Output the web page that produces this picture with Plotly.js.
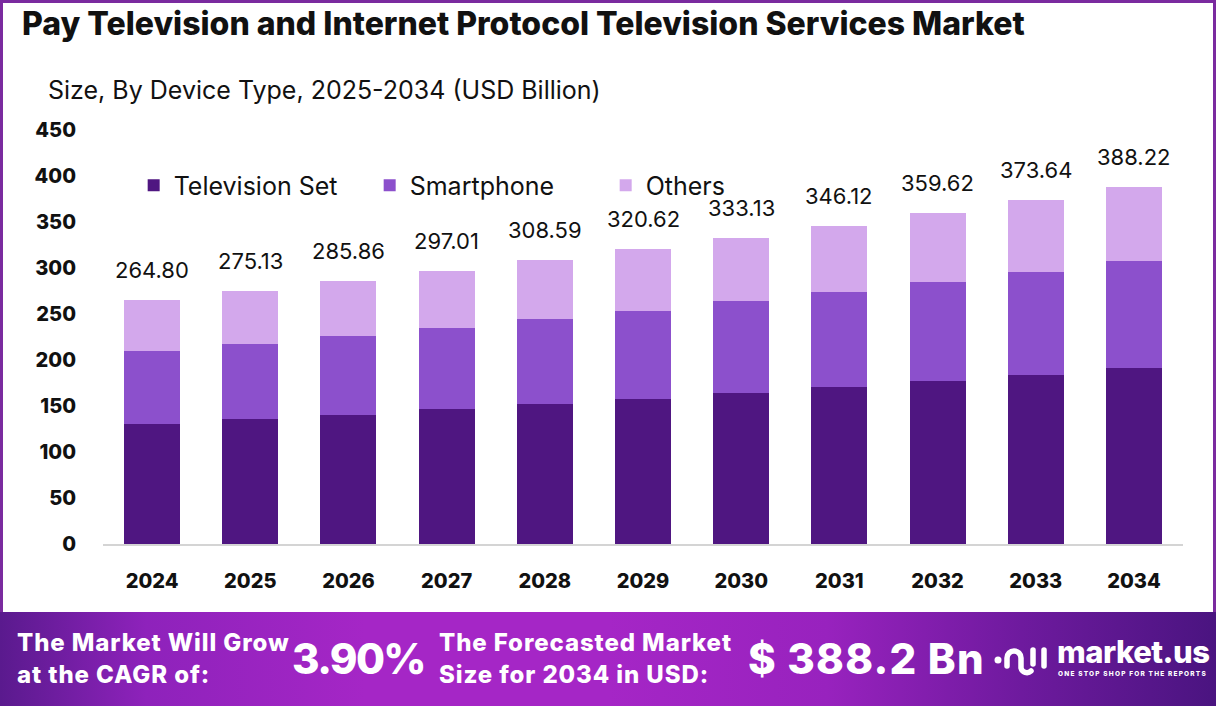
<!DOCTYPE html>
<html>
<head>
<meta charset="utf-8">
<script src="https://cdn.plot.ly/plotly-3.0.1.min.js"></script>
<style>
  html, body { margin:0; padding:0; width:1216px; height:706px; overflow:hidden; background:#fff; font-family: Inter, "Open Sans", sans-serif; }
  #frame { position:absolute; left:0; top:0; width:1216px; height:612px; box-sizing:border-box; border:3px solid #7a2a9f; border-bottom:none; pointer-events:none; }
  #chart { position:absolute; left:0; top:0; width:1216px; height:612px; }
  #banner { position:absolute; left:0; top:612px; width:1216px; height:94px;
    background: linear-gradient(90deg, #5a1a8e 0%, #8e22bb 12%, #a526c6 30%, #a526c6 50%, #9822be 68%, #6e1a9e 84%, #4a1480 100%); color:#fff; }
  .b { position:absolute; font-weight:800; color:#fff; white-space:nowrap; }
  .two { font-size:24px; line-height:32px; letter-spacing:0.9px; }
  .big { font-size:42px; line-height:41px; letter-spacing:0.5px; }
</style>
</head>
<body>
<div id="chart"></div>
<div id="frame"></div>
<div id="banner">
  <div class="b two" style="left:17px; top:15px;">The Market Will Grow<br>at the CAGR of:</div>
  <div class="b big" style="left:292px; top:26px; letter-spacing:-1.6px;">3.90%</div>
  <div class="b two" style="left:439px; top:15px;">The Forecasted Market<br>Size for 2034 in USD:</div>
  <div class="b big" style="left:748px; top:26px; letter-spacing:1.2px;">$ 388.2 Bn</div>
  <svg style="position:absolute; left:993px; top:30px;" width="58" height="40" viewBox="0 0 58 40">
    <circle cx="5" cy="18" r="3.5" fill="#fff"/>
    <path d="M14 24 V16 a7 7 0 0 1 14 0 V26 a6 6 0 0 0 10 3" stroke="#fff" stroke-width="5.5" fill="none" stroke-linecap="round"/>
    <line x1="40" y1="8" x2="40" y2="22" stroke="#fff" stroke-width="5.5" stroke-linecap="round"/>
    <line x1="51" y1="8" x2="51" y2="24" stroke="#fff" stroke-width="5.5" stroke-linecap="round"/>
  </svg>
  <div class="b" style="left:1057px; top:24px; font-size:31px; line-height:32px; letter-spacing:-0.5px;">market.us</div>
  <div class="b" style="left:1058px; top:58px; font-size:6.5px; letter-spacing:1.2px;">ONE STOP SHOP FOR THE REPORTS</div>
</div>
<script>
const years = ['2024','2025','2026','2027','2028','2029','2030','2031','2032','2033','2034'];
const televisionSet = [130.4, 135.9, 140.2, 146.7, 152.2, 157.6, 164.1, 170.7, 177.2, 183.7, 191.3];
const smartphone    = [79.4, 81.5, 85.9, 88.1, 92.4, 95.7, 100.0, 103.2, 107.6, 112.0, 116.3];
const others        = [55.0, 57.7, 59.8, 62.2, 64.0, 67.3, 69.0, 72.2, 74.8, 77.9, 80.6];
const totals        = [264.80, 275.13, 285.86, 297.01, 308.59, 320.62, 333.13, 346.12, 359.62, 373.64, 388.22];
const seriesNames = ['Television Set', 'Smartphone', 'Others'];
const seriesColors = ['#4f1681', '#8c50cc', '#d3a8ec'];
const yTicks = [0, 50, 100, 150, 200, 250, 300, 350, 400, 450];

const FONT = 'Inter, "Open Sans", sans-serif';
const seriesValues = [televisionSet, smartphone, others];
const traces = seriesValues.map((vals, i) => ({
  type: 'bar', x: years, y: vals, name: seriesNames[i],
  marker: { color: seriesColors[i] }, hoverinfo: 'skip'
}));

const annotations = years.map((yr, i) => ({
  x: i, y: totals[i], xref: 'x', yref: 'y', text: totals[i].toFixed(2),
  showarrow: false, yanchor: 'bottom', yshift: 15,
  font: { family: FONT, size: 22, color: '#111' }
}));
annotations.push({
  xref: 'paper', yref: 'paper', x: -0.0527, y: 1.097, xanchor: 'left', yanchor: 'middle',
  text: 'Size, By Device Type, 2025-2034 (USD Billion)', showarrow: false,
  font: { family: FONT, size: 25, color: '#111' }
});

const layout = {
  width: 1216, height: 612,
  margin: { l: 103, r: 33, t: 130, b: 68 },
  paper_bgcolor: '#fff', plot_bgcolor: '#fff',
  barmode: 'stack', bargap: 0.43,
  title: { text: 'Pay Television and Internet Protocol Television Services Market',
    x: 22/1216, xanchor: 'left', xref: 'container', y: 1 - 24/612, yanchor: 'middle', yref: 'container',
    font: { family: FONT, size: 32, weight: 800, color: '#111' } },
  showlegend: true,
  legend: { orientation: 'h', x: 0.0284, y: 0.866, xanchor: 'left', yanchor: 'middle',
    entrywidth: 191, entrywidthmode: 'pixels', traceorder: 'normal',
    font: { family: FONT, size: 25, color: '#111' }, bgcolor: 'rgba(0,0,0,0)' },
  xaxis: { type: 'category', categoryorder: 'array', categoryarray: years, range: [-0.5, years.length - 0.5],
    showgrid: false, showline: true, linecolor: '#d4d4d4', linewidth: 2,
    ticks: '', ticklabelstandoff: 18, zeroline: false,
    tickfont: { family: FONT, size: 20, weight: 800, color: '#111' } },
  yaxis: { range: [0, 450], tickvals: yTicks, ticktext: yTicks.map(String), showgrid: false, zeroline: false,
    showline: false, ticks: '', ticklabelstandoff: 26,
    tickfont: { family: FONT, size: 20, weight: 800, color: '#111' } },
  annotations: annotations,
  font: { family: FONT }
};

Plotly.newPlot('chart', traces, layout, { displayModeBar: false, staticPlot: true });
</script>
</body>
</html>
